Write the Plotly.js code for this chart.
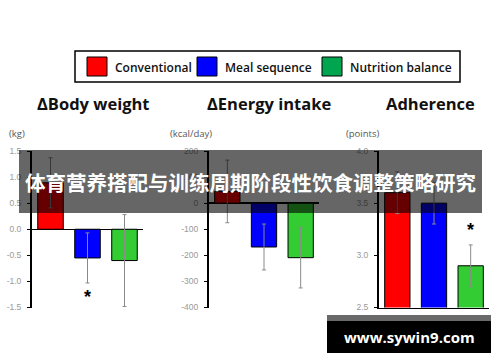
<!DOCTYPE html>
<html><head><meta charset="utf-8">
<script src="https://cdn.plot.ly/plotly-3.0.1.min.js"></script>
<style>html,body{margin:0;padding:0;background:#fff}#c{width:500px;height:362px}</style>
</head><body><div id="c"></div>
<script>
const groups = ["Conventional", "Meal sequence", "Nutrition balance"];
const barColors = ["#ff0000", "#0000ff", "#33cc33"];
const legendColors = ["#ff0000", "#0000ff", "#00a550"];

const bodyWeight = [0.89, -0.55, -0.60];
const bodyWeightErr = [0.48, 0.48, 0.88];
const energyIntake = [45, -168, -209];
const energyIntakeErr = [120, 88, 116];
const adherence = [3.6, 3.5, 2.9];
const adherenceErr = [0.2, 0.2, 0.2];

const panelTitles = ["ΔBody weight", "ΔEnergy intake", "Adherence"];
const unitLabels = ["(kg)", "(kcal/day)", "(points)"];
const bwTicks = [-1.5, -1.0, -0.5, 0.0, 0.5, 1.0, 1.5];
const bwTickText = ["-1.5", "-1.0", "-0.5", "0.0", "0.5", "1.0", "1.5"];
const eiTicks = [-400, -300, -200, -100, 0, 100, 200];
const adTicks = [2.5, 3.0, 3.5, 4.0];
const adTickText = ["2.5", "3.0", "3.5", "4.0"];
const bannerText = "体育营养搭配与训练周期阶段性饮食调整策略研究";
const watermark = "www.sywin9.com";

function bar(y, err, xa, ya) {
  return {
    type: "bar", x: groups, y: y, xaxis: xa, yaxis: ya, showlegend: false,
    marker: {color: barColors, line: {color: "#000", width: 1}},
    error_y: {type: "data", array: err, visible: true, color: "#8a8a8a", thickness: 1, width: 2}
  };
}
const data = [
  bar(bodyWeight, bodyWeightErr, "x", "y"),
  bar(energyIntake, energyIntakeErr, "x2", "y2"),
  bar(adherence, adherenceErr, "x3", "y3")
];

const W = 500, H = 362;
const px = v => v / W, py = v => 1 - v / H;
const yDom = [py(307.5), py(151)];
const tickFont = {family: "Liberation Sans, Arial", size: 8.5, color: "#999"};
function yax(range, tv, tt, anchor) {
  return {domain: yDom, anchor: anchor, range: range, tickvals: tv, ticktext: tt, showline: true, linecolor: "#000",
    linewidth: 2, ticks: "outside", ticklen: 3, tickcolor: "#000", tickwidth: 1, showgrid: false,
    zeroline: false, tickfont: tickFont, fixedrange: true, ticklabelstandoff: 4};
}
function xax(dom, showline, anchor) {
  return {domain: dom, anchor: anchor, showticklabels: false, ticks: "", showgrid: false, zeroline: false,
    showline: showline, linecolor: "#000", linewidth: 1.5, fixedrange: true};
}

const layout = {
  width: W, height: H, margin: {l: 0, r: 0, t: 0, b: 0},
  paper_bgcolor: "#fff", plot_bgcolor: "rgba(0,0,0,0)", bargap: 0.31, showlegend: false,
  xaxis: xax([px(32), px(143)], false, "y"),
  yaxis: Object.assign(yax([-1.5, 1.5], bwTicks, bwTickText, "x"), {zeroline: true, zerolinecolor: "#000", zerolinewidth: 1.5}),
  xaxis2: xax([px(209), px(319)], false, "y2"),
  yaxis2: Object.assign(yax([-400, 200], eiTicks, eiTicks.map(String), "x2"), {zeroline: true, zerolinecolor: "#000", zerolinewidth: 1.5}),
  xaxis3: xax([px(379), px(489)], true, "y3"),
  yaxis3: yax([2.5, 4.0], adTicks, adTickText, "x3"),
  shapes: [], annotations: []
};

// legend box
layout.shapes.push({type: "rect", xref: "paper", yref: "paper", x0: px(75), x1: px(460), y0: py(82), y1: py(51),
  line: {color: "#000", width: 1.5}, fillcolor: "#fff", layer: "below"});
const legSq = [87, 197, 322], legTx = [113, 223, 348];
groups.forEach((g, i) => {
  layout.shapes.push({type: "rect", xref: "paper", yref: "paper", x0: px(legSq[i]), x1: px(legSq[i] + 20),
    y0: py(76), y1: py(57), fillcolor: legendColors[i], line: {color: "#000", width: 1}});
  layout.annotations.push({xref: "paper", yref: "paper", x: px(legTx[i]), y: py(67.5), xanchor: "left", yanchor: "middle",
    text: g, showarrow: false, font: {family: "Open Sans", size: 12, color: "#111", weight: 600}});
});

// panel titles and units
const titleX = [93, 269, 430], unitX = [17, 191, 362];
panelTitles.forEach((t, i) => {
  layout.annotations.push({xref: "paper", yref: "paper", x: px(titleX[i]), y: py(104), xanchor: "center", yanchor: "middle",
    text: t, showarrow: false, font: {family: "Open Sans", size: 16.5, color: "#111", weight: 700}});
  layout.annotations.push({xref: "paper", yref: "paper", x: px(unitX[i]), y: py(133), xanchor: "center", yanchor: "middle",
    text: unitLabels[i], showarrow: false, font: {family: "Open Sans", size: 9.5, color: "#555"}});
});

// significance asterisks
layout.annotations.push({xref: "x", yref: "y", x: groups[1], y: -1.29, text: "*", showarrow: false,
  font: {family: "Liberation Sans", size: 18, color: "#000", weight: 700}, yanchor: "middle"});
layout.annotations.push({xref: "x3", yref: "y3", x: groups[2], y: 3.24, text: "*", showarrow: false,
  font: {family: "Liberation Sans", size: 18, color: "#000", weight: 700}, yanchor: "middle"});

// overlay banner
layout.shapes.push({type: "rect", xref: "paper", yref: "paper", x0: px(19), x1: px(482), y0: py(213), y1: py(150),
  fillcolor: "rgba(0,0,0,0.6)", line: {width: 0}, layer: "above"});
layout.annotations.push({xref: "paper", yref: "paper", x: px(250.5), y: py(182), xanchor: "center", yanchor: "middle",
  text: bannerText, showarrow: false, font: {family: "Noto Sans CJK SC", size: 20.5, color: "#fff", weight: 700}});

// watermark
layout.shapes.push({type: "rect", xref: "paper", yref: "paper", x0: px(327), x1: px(491), y0: py(321), y1: py(315),
  fillcolor: "#6a6a6a", line: {width: 0}, layer: "above"});
layout.shapes.push({type: "rect", xref: "paper", yref: "paper", x0: px(327), x1: px(491), y0: py(353), y1: py(321),
  fillcolor: "#000", line: {width: 0}, layer: "above"});
layout.annotations.push({xref: "paper", yref: "paper", x: px(409), y: py(337), xanchor: "center", yanchor: "middle",
  text: watermark, showarrow: false, font: {family: "Open Sans", size: 15, color: "#fff", weight: 700}});

Plotly.newPlot("c", data, layout, {displayModeBar: false, staticPlot: true});
</script></body></html>
